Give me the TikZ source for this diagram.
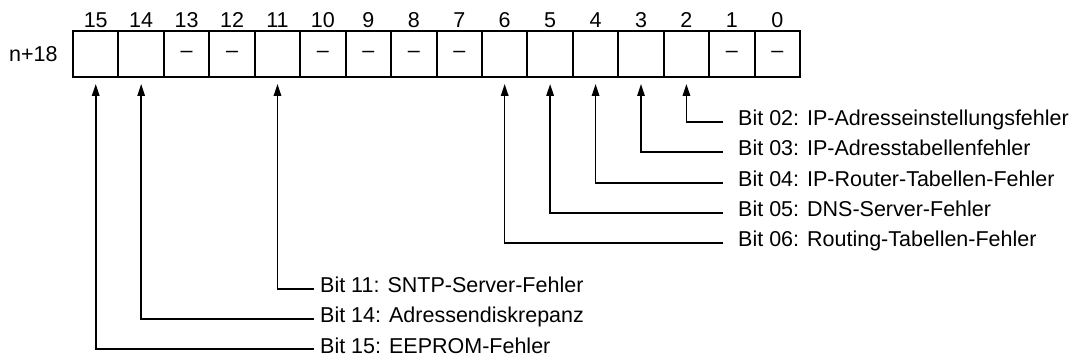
\documentclass[tikz,border=0pt]{standalone}
\usepackage{fontspec}
\setmainfont{Liberation Sans}
\usetikzlibrary{arrows.meta}
\begin{document}
\begin{tikzpicture}[x=1pt,y=-1pt,
  cell/.style={draw, line width=2pt, minimum width=45.44pt, minimum height=46pt, inner sep=0pt, font=\fontsize{21.5}{26}\selectfont},
  num/.style={anchor=base, inner sep=0pt, font=\fontsize{21.5}{26}\selectfont},
  lbl/.style={anchor=base west, inner sep=0pt, font=\fontsize{21.5}{26}\selectfont},
  arr/.style={line width=1.6pt, -{Triangle[length=12pt,width=7.5pt]}}]
\useasboundingbox (0,0) rectangle (1074,358);
% cells
\foreach \k/\t in {15/,14/,13/–,12/–,11/,10/–,9/–,8/–,7/–,6/,5/,4/,3/,2/,1/–,0/–}{
  \pgfmathsetmacro{\cx}{73+(15-\k+0.5)*45.44}
  \node[cell] (c\k) at (\cx,54) {\t};
  \node[num] (n\k) at (\cx,28) {\k};
}
\node[num, anchor=base west] (reg) at (9,62) {n+18};
% labels right
\node[lbl] (l02) at (738,126) {Bit 02: IP-Adresseinstellungsfehler};
\node[lbl] (l03) at (738,156) {Bit 03: IP-Adresstabellenfehler};
\node[lbl] (l04) at (738,187) {Bit 04: IP-Router-Tabellen-Fehler};
\node[lbl] (l05) at (738,217) {Bit 05: DNS-Server-Fehler};
\node[lbl] (l06) at (738,247) {Bit 06: Routing-Tabellen-Fehler};
% labels left
\node[lbl] (l11) at (320,292) {Bit 11: SNTP-Server-Fehler};
\node[lbl] (l14) at (320,322) {Bit 14: Adressendiskrepanz};
\node[lbl] (l15) at (320,353) {Bit 15: EEPROM-Fehler};
% line ends
\coordinate (e02) at (723,122);
\coordinate (e03) at (723,152);
\coordinate (e04) at (723,183);
\coordinate (e05) at (723,213);
\coordinate (e06) at (723,243);
\coordinate (e11) at (314,289);
\coordinate (e14) at (314,319);
\coordinate (e15) at (314,349);
% connectors
\draw[arr] (e02) -| ([yshift=-6pt]c2.south);
\draw[arr] (e03) -| ([yshift=-6pt]c3.south);
\draw[arr] (e04) -| ([yshift=-6pt]c4.south);
\draw[arr] (e05) -| ([yshift=-6pt]c5.south);
\draw[arr] (e06) -| ([yshift=-6pt]c6.south);
\draw[arr] (e11) -| ([yshift=-6pt]c11.south);
\draw[arr] (e14) -| ([yshift=-6pt]c14.south);
\draw[arr] (e15) -| ([yshift=-6pt]c15.south);
\end{tikzpicture}
\end{document}
